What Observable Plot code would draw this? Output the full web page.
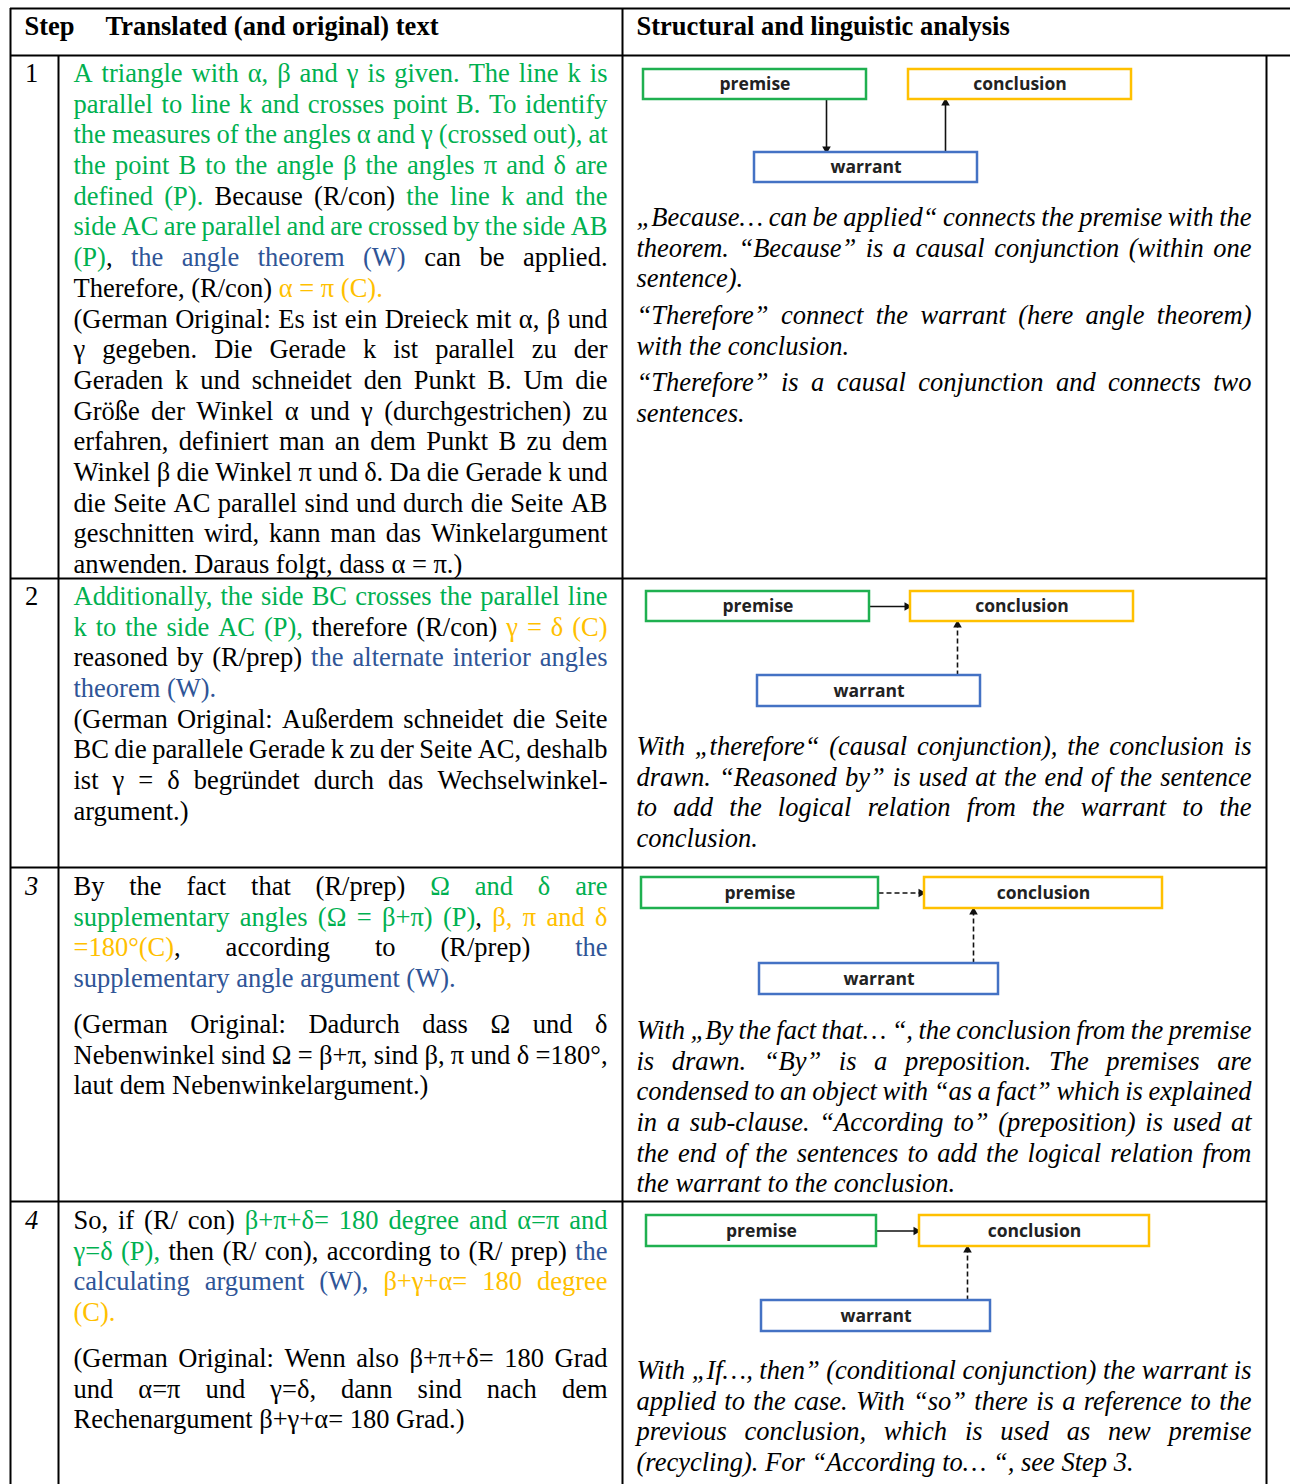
<!DOCTYPE html>
<html><head><meta charset="utf-8">
<script src="https://cdn.jsdelivr.net/npm/d3@7"></script>
<script src="https://cdn.jsdelivr.net/npm/@observablehq/plot@0.6"></script>
<style>body{margin:0;background:#fff}#chart svg{display:block}</style>
</head><body><div id="chart"></div>
<script>
// ---------- DATA (text content) ----------
const headerLabels = ["Step", "Translated (and original) text", "Structural and linguistic analysis"];
const stepLabels = ["1", "2", "3", "4"];
const stepItalic = [false, false, true, true];
// colour markers: [g]=premise (green) [o]=conclusion (orange) [b]=warrant (blue) [k]=plain
const translatedStep1 = [
  ["[g]A triangle with α, β and γ is given. The line k is",
   "parallel to line k and crosses point B. To identify",
   "the measures of the angles α and γ (crossed out), at",
   "the point B to the angle β the angles π and δ are",
   "defined (P). [k]Because (R/con) [g]the line k and the",
   "side AC are parallel and are crossed by the side AB",
   "(P)[k], [b]the angle theorem (W) [k]can be applied.",
   "Therefore, (R/con) [o]α = π (C)."],
  ["[k](German Original: Es ist ein Dreieck mit α, β und",
   "γ gegeben. Die Gerade k ist parallel zu der",
   "Geraden k und schneidet den Punkt B. Um die",
   "Größe der Winkel α und γ (durchgestrichen) zu",
   "erfahren, definiert man an dem Punkt B zu dem",
   "Winkel β die Winkel π und δ. Da die Gerade k und",
   "die Seite AC parallel sind und durch die Seite AB",
   "geschnitten wird, kann man das Winkelargument",
   "anwenden. Daraus folgt, dass α = π.)"]
];
const translatedStep2 = [
  ["[g]Additionally, the side BC crosses the parallel line",
   "k to the side AC (P), [k]therefore (R/con) [o]γ = δ (C)",
   "[k]reasoned by (R/prep) [b]the alternate interior angles",
   "theorem (W)."],
  ["[k](German Original: Außerdem schneidet die Seite",
   "BC die parallele Gerade k zu der Seite AC, deshalb",
   "ist γ = δ begründet durch das Wechselwinkel-",
   "argument.)"]
];
const translatedStep3 = [
  ["[k]By the fact that (R/prep) [g]Ω and δ are",
   "supplementary angles (Ω = β+π) (P)[k], [o]β, π and δ",
   "=180°(C)[k], according to (R/prep) [b]the",
   "supplementary angle argument (W)."],
  ["[k](German Original: Dadurch dass Ω und δ",
   "Nebenwinkel sind Ω = β+π, sind β, π und δ =180°,",
   "laut dem Nebenwinkelargument.)"]
];
const translatedStep4 = [
  ["[k]So, if (R/ con) [g]β+π+δ= 180 degree and α=π and",
   "γ=δ (P), [k]then (R/ con), according to (R/ prep) [b]the",
   "calculating argument (W), [o]β+γ+α= 180 degree",
   "(C)."],
  ["[k](German Original: Wenn also β+π+δ= 180 Grad",
   "und α=π und γ=δ, dann sind nach dem",
   "Rechenargument β+γ+α= 180 Grad.)"]
];
const analysisStep1 = [
  ["„Because… can be applied“ connects the premise with the",
   "theorem. “Because” is a causal conjunction (within one",
   "sentence)."],
  ["“Therefore” connect the warrant (here angle theorem)",
   "with the conclusion."],
  ["“Therefore” is a causal conjunction and connects two",
   "sentences."]
];
const analysisStep2 = [
  ["With „therefore“ (causal conjunction), the conclusion is",
   "drawn. “Reasoned by” is used at the end of the sentence",
   "to add the logical relation from the warrant to the",
   "conclusion."]
];
const analysisStep3 = [
  ["With „By the fact that… “, the conclusion from the premise",
   "is drawn. “By” is a preposition. The premises are",
   "condensed to an object with “as a fact” which is explained",
   "in a sub-clause. “According to” (preposition) is used at",
   "the end of the sentences to add the logical relation from",
   "the warrant to the conclusion."]
];
const analysisStep4 = [
  ["With „If…, then” (conditional conjunction) the warrant is",
   "applied to the case. With “so” there is a reference to the",
   "previous conclusion, which is used as new premise",
   "(recycling). For “According to… “, see Step 3."]
];
const boxLabels = ["premise", "conclusion", "warrant"];
// diagram relations per step: [from, to, dashed]
const relationsStep1 = [["premise", "warrant", false], ["warrant", "conclusion", false]];
const relationsStep2 = [["premise", "conclusion", false], ["warrant", "conclusion", true]];
const relationsStep3 = [["premise", "conclusion", true], ["warrant", "conclusion", true]];
const relationsStep4 = [["premise", "conclusion", false], ["warrant", "conclusion", true]];

// ---------- LAYOUT / STYLE ----------
const W = 1290, H = 1484;
const palette = {g: "#00b050", o: "#ffc000", b: "#2f5597", k: "#000000"};
const boxStroke = {premise: "#1fb050", conclusion: "#ffc000", warrant: "#4472c4"};
const FS = 26.5, PITCH = 30.7, SERIF = '"Liberation Serif", "Times New Roman", serif';
const colL = {left: 73, width: 534};
const colR = {left: 636, width: 615};
const translatedCells = [
  {paras: translatedStep1, y0: 73, gaps: [0]},
  {paras: translatedStep2, y0: 596, gaps: [0]},
  {paras: translatedStep3, y0: 886, gaps: [15.3]},
  {paras: translatedStep4, y0: 1220, gaps: [15.3]}
];
const analysisCells = [
  {paras: analysisStep1, y0: 217, gaps: [6, 6]},
  {paras: analysisStep2, y0: 746, gaps: []},
  {paras: analysisStep3, y0: 1030, gaps: []},
  {paras: analysisStep4, y0: 1370, gaps: []}
];
const stepY = [73, 596, 886, 1220];
const diagramLayout = [
  {premise: [643, 866, 69, 99], conclusion: [908, 1131, 69, 99], warrant: [754, 977, 152, 182], rel: relationsStep1, xs: [826, 945]},
  {premise: [646, 869, 591, 621], conclusion: [910, 1133, 591, 621], warrant: [757, 980, 675, 706], rel: relationsStep2, xs: [null, 957]},
  {premise: [641, 878, 877, 908], conclusion: [924, 1162, 877, 908], warrant: [759, 998, 963, 994], rel: relationsStep3, xs: [null, 973]},
  {premise: [646, 876, 1215, 1246], conclusion: [919, 1149, 1215, 1246], warrant: [761, 990, 1300, 1331], rel: relationsStep4, xs: [null, 967]}
];
const hLines = [
  {y: 8, x1: 10, x2: 1290}, {y: 55, x1: 10, x2: 1290},
  {y: 578, x1: 10, x2: 1266}, {y: 867, x1: 10, x2: 1266}, {y: 1201, x1: 10, x2: 1266}
];
const vLines = [
  {x: 10, y1: 8, y2: H}, {x: 58, y1: 55, y2: H}, {x: 622, y1: 8, y2: H}, {x: 1266, y1: 55, y2: H}
];

// ---------- text layout helpers (justified paragraphs) ----------
const ctx = document.createElement("canvas").getContext("2d");
function measure(t, font) { ctx.font = font; return ctx.measureText(t).width; }

function parseLine(line, state) {
  const words = []; let word = [];
  const parts = line.split(/(\[[gkbo]\])/);
  for (const p of parts) {
    const m = p.match(/^\[([gkbo])\]$/);
    if (m) { state.c = m[1]; continue; }
    let buf = "";
    for (const ch of p) {
      if (ch === " ") {
        if (buf) { word.push({text: buf, c: state.c}); buf = ""; }
        if (word.length) { words.push(word); word = []; }
      } else buf += ch;
    }
    if (buf) word.push({text: buf, c: state.c});
  }
  if (word.length) words.push(word);
  return words;
}

function layoutCell(cell, col, italic) {
  const font = `${italic ? "italic " : ""}${FS}px "Liberation Serif"`;
  const out = []; const state = {c: "k"};
  let y = cell.y0;
  cell.paras.forEach((lines, pi) => {
    if (pi > 0) y += cell.gaps[pi - 1] || 0;
    lines.forEach((line, li) => {
      const words = parseLine(line, state);
      const widths = words.map(w => d3.sum(w, s => measure(s.text, font)));
      const space = measure(" ", font);
      const last = li === lines.length - 1;
      let gap = space;
      if (!last && words.length > 1) gap = Math.max(space * 0.3, (col.width - d3.sum(widths)) / (words.length - 1));
      let x = col.left;
      words.forEach((w, wi) => {
        let sx = x;
        for (const s of w) { out.push({x: sx, y, text: s.text, color: palette[s.c]}); sx += measure(s.text, font); }
        x += widths[wi] + gap;
      });
      y += PITCH;
    });
  });
  return out;
}

const leftWords = translatedCells.flatMap(c => layoutCell(c, colL, false));
const rightWords = analysisCells.flatMap(c => layoutCell(c, colR, true));

const boxes = diagramLayout.flatMap(d => boxLabels.map(k => ({label: k, x1: d[k][0], x2: d[k][1], y1: d[k][2], y2: d[k][3], stroke: boxStroke[k]})));

const arrows = diagramLayout.flatMap(d => d.rel.map(([from, to, dashed], i) => {
  const a = d[from], b = d[to];
  if (a[2] === b[2]) {
    const y = (a[2] + a[3]) / 2;
    return {x1: a[1], y1: y, x2: b[0] - 1, y2: y, dashed};
  }
  const x = d.xs[i];
  if (a[2] < b[2]) return {x1: x, y1: a[3], x2: x, y2: b[2] - 1, dashed};
  return {x1: x, y1: a[2], x2: x, y2: b[3] + 1, dashed};
}));
const heads = arrows.map(a => {
  const dx = a.x2 - a.x1, dy = a.y2 - a.y1, len = Math.hypot(dx, dy);
  const ux = dx / len, uy = dy / len;
  const rot = Math.atan2(dx, -dy) * 180 / Math.PI;
  return {x: a.x2 - ux * 2.5, y: a.y2 - uy * 2.5, rot};
});
const shafts = arrows.map(a => {
  const dx = a.x2 - a.x1, dy = a.y2 - a.y1, len = Math.hypot(dx, dy);
  return {...a, x2: a.x2 - dx / len * 4, y2: a.y2 - dy / len * 4};
});

const headers = [
  {x: 24, y: 26, text: headerLabels[0]},
  {x: 105, y: 26, text: headerLabels[1]},
  {x: 636, y: 26, text: headerLabels[2]}
];
const steps = stepLabels.map((s, i) => ({x: 31, y: stepY[i], text: s, italic: stepItalic[i]}));

const plot = Plot.plot({
  width: W, height: H,
  margin: 0, marginTop: 0, marginRight: 0, marginBottom: 0, marginLeft: 0,
  x: {domain: [0, W], range: [0, W], axis: null},
  y: {domain: [0, H], range: [0, H], axis: null},
  color: {type: "identity"},
  style: {background: "#fff"},
  marks: [
    Plot.ruleY(hLines, {y: "y", x1: "x1", x2: "x2", stroke: "#000", strokeWidth: 2}),
    Plot.ruleX(vLines, {x: "x", y1: "y1", y2: "y2", stroke: "#000", strokeWidth: 2}),
    Plot.text(headers, {x: "x", y: "y", text: "text", textAnchor: "start", fontWeight: "bold", fontSize: 26.5, fontFamily: SERIF, fill: "#000"}),
    Plot.text(steps.filter(d => !d.italic), {x: "x", y: "y", text: "text", fontSize: FS, fontFamily: SERIF, fill: "#000"}),
    Plot.text(steps.filter(d => d.italic), {x: "x", y: "y", text: "text", fontSize: FS, fontStyle: "italic", fontFamily: SERIF, fill: "#000"}),
    Plot.text(leftWords, {x: "x", y: "y", text: "text", fill: "color", textAnchor: "start", fontSize: FS, fontFamily: SERIF}),
    Plot.text(rightWords, {x: "x", y: "y", text: "text", fill: "color", textAnchor: "start", fontSize: FS, fontStyle: "italic", fontFamily: SERIF}),
    Plot.link(shafts.filter(d => !d.dashed), {x1: "x1", y1: "y1", x2: "x2", y2: "y2", stroke: "#111", strokeWidth: 1.6}),
    Plot.link(shafts.filter(d => d.dashed), {x1: "x1", y1: "y1", x2: "x2", y2: "y2", stroke: "#111", strokeWidth: 1.6, strokeDasharray: "5,3"}),
    Plot.dot(heads, {x: "x", y: "y", rotate: "rot", symbol: "triangle", r: 3.2, fill: "#111", stroke: "none"}),
    Plot.rect(boxes, {x1: "x1", x2: "x2", y1: "y1", y2: "y2", stroke: "stroke", fill: "#fff", strokeWidth: 2.5}),
    Plot.text(boxes, {x: d => (d.x1 + d.x2) / 2, y: d => (d.y1 + d.y2) / 2, text: "label", fontSize: 17.5, fontWeight: "bold", fontFamily: '"Open Sans", "DejaVu Sans", sans-serif', fill: "#222"})
  ]
});
document.getElementById("chart").appendChild(plot);
</script>
</body></html>
